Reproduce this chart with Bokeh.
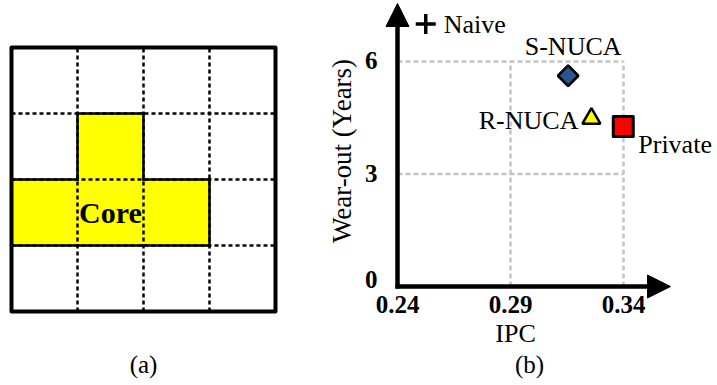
import math
from bokeh.plotting import figure
from bokeh.layouts import row
from bokeh.models import Range1d, Arrow, NormalHead
from bokeh.core.properties import value
from bokeh.embed import file_html
from bokeh.resources import INLINE

# ---------------- data ----------------
# (a) 4x4 tile grid, core cells as (column, row-from-bottom)
grid_n = 4
core_cells = [(1, 2), (0, 1), (1, 1), (2, 1)]
core_label = "Core"
panel_a_label = "(a)"

# (b) scatter: IPC vs wear-out
schemes = ["S-NUCA", "R-NUCA", "Private"]
ipc = [0.3155, 0.3258, 0.3399]
wearout = [5.62, 4.48, 4.27]
naive_label = "Naive"
naive_ipc = [0.2525]
naive_wearout = [7.0]
ipc_ticks = [0.24, 0.29, 0.34]
ipc_tick_labels = ["0.24", "0.29", "0.34"]
wear_ticks = [0, 3, 6]
wear_tick_labels = ["0", "3", "6"]
x_title = "IPC"
y_title = "Wear-out (Years)"
panel_b_label = "(b)"

# ---------------- styles ----------------
FONT = value("Liberation Serif")
H = 385
WA, WB = 300, 417
DY = -9  # baseline correction for rendered text

# ---------- panel (a) ----------
cell_px = 66.0
ox, oy = 11.0, 311.0  # pixel position of grid origin (bottom-left)
pa = figure(width=WA, height=H, output_backend="svg", toolbar_location=None,
            x_range=Range1d(-ox / cell_px, (WA - ox) / cell_px),
            y_range=Range1d(-(H - oy) / cell_px, oy / cell_px),
            min_border=0, outline_line_color=None,
            background_fill_color="white", border_fill_color="white")
pa.axis.visible = False
pa.grid.visible = False

cset = set(core_cells)
pa.quad(left=[c for c, r in core_cells], right=[c + 1 for c, r in core_cells],
        bottom=[r for c, r in core_cells], top=[r + 1 for c, r in core_cells],
        fill_color="#ffff00", line_color=None)

inner = list(range(1, grid_n))
pa.segment(x0=inner, y0=[0] * len(inner), x1=inner, y1=[grid_n] * len(inner),
           line_color="black", line_width=2.5, line_dash="4 3")
pa.segment(x0=[0] * len(inner), y0=inner, x1=[grid_n] * len(inner), y1=inner,
           line_color="black", line_width=2.5, line_dash="4 3")

# outline of core region: edges not shared between core cells
ex0, ey0, ex1, ey1 = [], [], [], []
for c, r in core_cells:
    if (c, r - 1) not in cset:
        ex0.append(c); ey0.append(r); ex1.append(c + 1); ey1.append(r)
    if (c, r + 1) not in cset:
        ex0.append(c); ey0.append(r + 1); ex1.append(c + 1); ey1.append(r + 1)
    if (c - 1, r) not in cset:
        ex0.append(c); ey0.append(r); ex1.append(c); ey1.append(r + 1)
    if (c + 1, r) not in cset:
        ex0.append(c + 1); ey0.append(r); ex1.append(c + 1); ey1.append(r + 1)
pa.segment(x0=ex0, y0=ey0, x1=ex1, y1=ey1, line_color="black", line_width=2.5,
           line_cap="square")

pa.quad(left=[0], right=[grid_n], bottom=[0], top=[grid_n], fill_color=None,
        line_color="black", line_width=4, line_join="round")

pa.text(x=[1.5], y=[1.5], text=[core_label], text_font=FONT, text_font_style="bold",
        text_font_size="30px", text_align="center", text_baseline="middle",
        text_color="black")
pa.text(x=[grid_n / 2], y=[0], text=[panel_a_label], text_font=FONT,
        text_font_size="25px", text_align="center", text_baseline="alphabetic",
        y_offset=62 + DY, text_color="black")

# ---------- panel (b) ----------
xpx = 2260.0   # px per IPC unit
ypx = 37.5     # px per year
x0px, y0px = 97.0, 286.0  # pixel position of (0.24, 0) within panel
xs = ipc_ticks[0] - x0px / xpx
pb = figure(width=WB, height=H, output_backend="svg", toolbar_location=None,
            x_range=Range1d(xs, xs + WB / xpx),
            y_range=Range1d(-(H - y0px) / ypx, y0px / ypx),
            min_border=0, outline_line_color=None,
            background_fill_color="white", border_fill_color="white")
pb.axis.visible = False
pb.grid.visible = False

xmin, xmax = ipc_ticks[0], ipc_ticks[-1]
ymin, ymax = wear_ticks[0], wear_ticks[-1]
gcol = "#c4c4c4"
hy = [v for v in wear_ticks if v != ymin]
pb.segment(x0=[xmin] * len(hy), y0=hy, x1=[xmax] * len(hy), y1=hy,
           line_color=gcol, line_width=2.5, line_dash="5 3")
vx = [v for v in ipc_ticks if v != xmin]
pb.segment(x0=vx, y0=[ymin] * len(vx), x1=vx, y1=[ymax] * len(vx),
           line_color=gcol, line_width=2.5, line_dash="5 3")

# axes with arrow heads
x_tip = xmin + 273 / xpx
y_tip = ymin + 283 / ypx
pb.add_layout(Arrow(x_start=xmin - 2 / xpx, y_start=ymin, x_end=x_tip, y_end=ymin,
                    line_width=4.5, line_color="black",
                    end=NormalHead(size=23, fill_color="black", line_color="black", line_width=1)))
pb.add_layout(Arrow(x_start=xmin, y_start=ymin - 2 / ypx, x_end=xmin, y_end=y_tip,
                    line_width=4.5, line_color="black",
                    end=NormalHead(size=23, fill_color="black", line_color="black", line_width=1)))

# tick labels
pb.text(x=ipc_ticks, y=[ymin] * len(ipc_ticks), text=ipc_tick_labels, text_font=FONT,
        text_font_style="bold", text_font_size="25px", text_align="center",
        text_baseline="alphabetic", y_offset=27 + DY, text_color="black")
pb.text(x=[xmin] * len(wear_ticks), y=wear_ticks, text=wear_tick_labels, text_font=FONT,
        text_font_style="bold", text_font_size="25px", text_align="right",
        text_baseline="alphabetic", x_offset=-20,
        y_offset=[(2 if v == ymin else 8) + DY for v in wear_ticks], text_color="black")

# axis titles
pb.text(x=[(xmin + xmax) / 2], y=[ymin], text=[x_title], text_font=FONT,
        text_font_size="26px", text_align="center", text_baseline="alphabetic",
        x_offset=5, y_offset=56 + DY, text_color="black")
pb.text(x=[xmin], y=[(ymin + ymax) / 2], text=[y_title], text_font=FONT,
        text_font_size="27px", text_align="center", text_baseline="alphabetic",
        angle=math.pi / 2, x_offset=-47 + DY, y_offset=-23, text_color="black")
pb.text(x=[(xmin + xmax) / 2], y=[ymin], text=[panel_b_label], text_font=FONT,
        text_font_size="25px", text_align="center", text_baseline="alphabetic",
        x_offset=19, y_offset=87 + DY, text_color="black")

# markers
pb.scatter(x=[ipc[0]], y=[wearout[0]], marker="square", angle=math.pi / 4, size=14.5,
           fill_color="#2a5592", line_color="black", line_width=2.5)
pb.scatter(x=[ipc[1]], y=[wearout[1]], marker="triangle", size=18,
           fill_color="#ffff00", line_color="black", line_width=2.5)
pb.scatter(x=[ipc[2]], y=[wearout[2]], marker="square", size=20,
           fill_color="#ff0000", line_color="black", line_width=3, line_join="round")
pb.scatter(x=naive_ipc, y=naive_wearout, marker="cross", size=20,
           line_color="black", line_width=3.5)

# point labels
pb.text(x=[ipc[0]], y=[wearout[0]], text=[schemes[0]], text_font=FONT, text_font_size="26px",
        text_align="center", text_baseline="alphabetic", x_offset=5, y_offset=-20 + DY,
        text_color="black")
pb.text(x=[ipc[1]], y=[wearout[1]], text=[schemes[1]], text_font=FONT, text_font_size="26px",
        text_align="right", text_baseline="alphabetic", x_offset=-13, y_offset=11 + DY,
        text_color="black")
pb.text(x=[ipc[2]], y=[wearout[2]], text=[schemes[2]], text_font=FONT, text_font_size="26px",
        text_align="left", text_baseline="alphabetic", x_offset=15, y_offset=27 + DY,
        text_color="black")
pb.text(x=naive_ipc, y=naive_wearout, text=[naive_label], text_font=FONT, text_font_size="26px",
        text_align="left", text_baseline="alphabetic", x_offset=18, y_offset=9 + DY,
        text_color="black")

layout = row(pa, pb, spacing=0)
open("out.html", "w").write(file_html(layout, INLINE))
